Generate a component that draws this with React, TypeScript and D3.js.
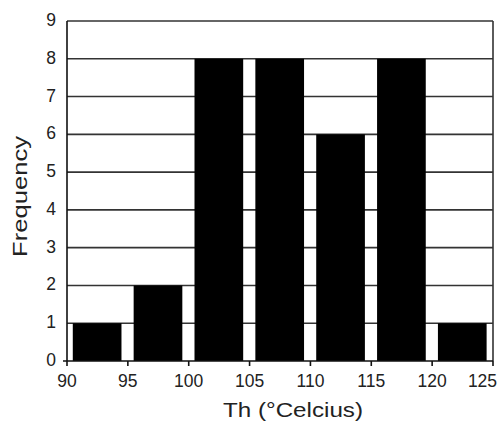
import React from "react";
import * as d3 from "d3";

const binStarts = [90, 95, 100, 105, 110, 115, 120];
const counts = [1, 2, 8, 8, 6, 8, 1];
const xTicks = [90, 95, 100, 105, 110, 115, 120, 125];
const yTicks = [0, 1, 2, 3, 4, 5, 6, 7, 8, 9];
const xTitle = "Th (°Celcius)";
const yTitle = "Frequency";

export default function App() {
  const W = 497, H = 423;
  const left = 67, right = 493, top = 21, bottom = 361;
  const x = d3.scaleLinear().domain([90, 125]).range([left, right]);
  const y = d3.scaleLinear().domain([0, 9]).range([bottom, top]);
  const binW = 5;
  const font = "Arial, 'Liberation Sans', sans-serif";
  return (
    <svg width={W} height={H} style={{ position: "absolute", left: 0, top: 0 }}>
      <rect x={0} y={0} width={W} height={H} fill="#fff" />
      {yTicks.filter((t) => t > 0).map((t) => (
        <line key={"g" + t} x1={left} x2={right} y1={y(t)} y2={y(t)} stroke="#333" strokeWidth={1.6} />
      ))}
      <line x1={right} x2={right} y1={top} y2={bottom} stroke="#333" strokeWidth={1.6} />
      {binStarts.map((b, i) => {
        const x0 = x(b), x1 = x(b + binW);
        const pad = (x1 - x0) * 0.1;
        return (
          <rect key={"b" + i} x={x0 + pad - 0.3} y={y(counts[i])} width={x1 - x0 - 2 * pad} height={y(0) - y(counts[i])} fill="#000" />
        );
      })}
      <line x1={left} x2={left} y1={top} y2={bottom} stroke="#111" strokeWidth={1.6} />
      <line x1={left - 4} x2={right} y1={bottom} y2={bottom} stroke="#111" strokeWidth={1.6} />
      {xTicks.map((t, i) => (
        <g key={"x" + t}>
          <line x1={x(t)} x2={x(t)} y1={bottom} y2={bottom + 5} stroke="#111" strokeWidth={1.6} />
          <text x={i === xTicks.length - 1 ? x(t) - 10.5 : x(t)} y={386.5} textAnchor="middle" fontFamily={font} fontSize={17.5} fill="#222">{t}</text>
        </g>
      ))}
      {yTicks.map((t) => (
        <text key={"y" + t} x={56} y={y(t) + 5} textAnchor="end" fontFamily={font} fontSize={17.5} fill="#222">{t}</text>
      ))}
      <text x={223} y={416.5} textLength={140} lengthAdjust="spacingAndGlyphs" fontFamily={font} fontSize={21} fill="#222">{xTitle}</text>
      <text transform={`translate(27,257) rotate(-90)`} textLength={121} lengthAdjust="spacingAndGlyphs" fontFamily={font} fontSize={21} fill="#222">{yTitle}</text>
    </svg>
  );
}
